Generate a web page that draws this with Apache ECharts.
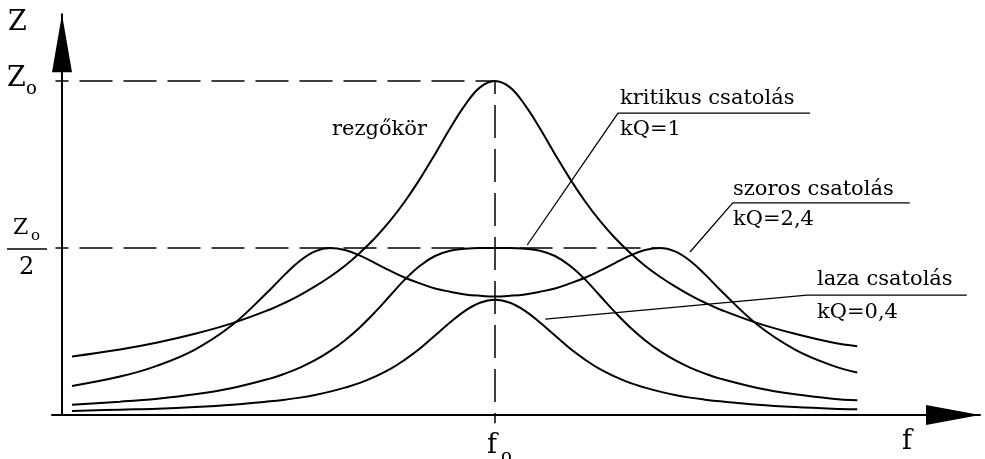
<!DOCTYPE html>
<html>
<head>
<meta charset="utf-8">
<script src="https://cdn.jsdelivr.net/npm/echarts@6/dist/echarts.min.js"></script>
<style>
  html, body { margin: 0; padding: 0; background: #fff; }
  #chart { width: 985px; height: 459px; }
</style>
</head>
<body>
<div id="chart"></div>
<script>
// Generalised detuning (f0 = 0) at which the curves are sampled
const detuning = [-5.64, -5, -4.5, -4, -3.5, -3, -2.8, -2.6, -2.4, -2.2, -2, -1.8, -1.6, -1.4, -1.2, -1, -0.8, -0.6, -0.4, -0.2,
                  0, 0.2, 0.4, 0.6, 0.8, 1, 1.2, 1.4, 1.6, 1.8, 2, 2.2, 2.4, 2.6, 2.8, 3, 3.5, 4, 4.5, 4.83];

// Impedance relative to Zo
const rezgokor = [0.175, 0.196, 0.217, 0.243, 0.275, 0.316, 0.336, 0.359, 0.385, 0.414, 0.447, 0.486, 0.530, 0.581, 0.640, 0.707, 0.781, 0.858, 0.928, 0.981,
                  1.000, 0.981, 0.928, 0.858, 0.781, 0.707, 0.640, 0.581, 0.530, 0.486, 0.447, 0.414, 0.385, 0.359, 0.336, 0.316, 0.275, 0.243, 0.217, 0.206];
const szoros   = [0.087, 0.115, 0.148, 0.196, 0.270, 0.375, 0.421, 0.462, 0.490, 0.500, 0.494, 0.477, 0.455, 0.432, 0.411, 0.394, 0.379, 0.369, 0.361, 0.357,
                  0.355, 0.357, 0.361, 0.369, 0.379, 0.394, 0.411, 0.432, 0.455, 0.477, 0.494, 0.500, 0.490, 0.462, 0.421, 0.375, 0.270, 0.196, 0.148, 0.127];
const kritikus = [0.031, 0.040, 0.049, 0.062, 0.081, 0.109, 0.124, 0.142, 0.164, 0.191, 0.224, 0.263, 0.308, 0.357, 0.406, 0.447, 0.476, 0.492, 0.498, 0.500,
                  0.500, 0.500, 0.498, 0.492, 0.476, 0.447, 0.406, 0.357, 0.308, 0.263, 0.224, 0.191, 0.164, 0.142, 0.124, 0.109, 0.081, 0.062, 0.049, 0.044];
const laza     = [0.012, 0.016, 0.019, 0.024, 0.031, 0.041, 0.046, 0.052, 0.060, 0.070, 0.082, 0.096, 0.115, 0.137, 0.166, 0.199, 0.238, 0.277, 0.312, 0.336,
                  0.345, 0.336, 0.312, 0.277, 0.238, 0.199, 0.166, 0.137, 0.115, 0.096, 0.082, 0.070, 0.060, 0.052, 0.046, 0.041, 0.031, 0.024, 0.019, 0.017];

// Reference levels
const levelZo = 1;
const levelHalf = 0.5;
const yAxisAt = -5.86;        // where the dashed guides start (just left of the Z axis)
const halfLineEnd = 2.2;      // the Zo/2 guide runs out to the right hump of the tight coupling
const f0 = 0;

// Leader lines from each curve to its caption: [detuning, Z/Zo]
const leaderKritikus = [[0.43, 0.509], [1.64, 0.904], [4.2, 0.904]];
const leaderSzoros   = [[2.6, 0.488], [3.17, 0.635], [5.53, 0.635]];
const leaderLaza     = [[0.67, 0.287], [4.16, 0.359], [6.29, 0.359]];

const pair = (xs, ys) => xs.map((x, i) => [x, ys[i]]);

const serif = '"DejaVu Serif", "Liberation Serif", serif';
function label(x, y, text, size) {
  return {
    type: 'text', x: x, y: y, silent: true, z: 10,
    style: { text: text, font: size + 'px ' + serif, fill: '#000', align: 'left', verticalAlign: 'middle',
             textAlign: 'left', textVerticalAlign: 'middle' }
  };
}

const curveStyle = { color: '#000', width: 2 };
function curve(name, ys) {
  return { name: name, type: 'line', data: pair(detuning, ys), smooth: 0.4, symbol: 'none',
           lineStyle: curveStyle, itemStyle: { color: '#000' }, z: 3, silent: true };
}
function guide(points, dashed) {
  return { type: 'line', data: points, symbol: 'none', clip: false, silent: true, z: 2,
           lineStyle: dashed ? { color: '#000', width: 1.5, type: [33, 11], dashOffset: 20 }
                             : { color: '#000', width: 1.3 } };
}

const chart = echarts.init(document.getElementById('chart'), null, { renderer: 'canvas' });
chart.setOption({
  backgroundColor: '#fff',
  animation: false,
  grid: { left: 52, right: 5, top: 14.2, bottom: 44, containLabel: false, outerBoundsMode: 'none' },
  xAxis: {
    type: 'value', min: -5.9067, max: 6.4667,
    axisLine: { show: true, onZero: true, symbol: ['none', 'triangle'], symbolSize: [20, 54], symbolOffset: [0, -27],
                lineStyle: { color: '#000', width: 2 } },
    axisTick: { show: false }, axisLabel: { show: false }, splitLine: { show: false }
  },
  yAxis: {
    type: 'value', min: 0, max: 1.2, offset: -10,
    axisLine: { show: true, onZero: false, symbol: ['none', 'triangle'], symbolSize: [20, 58], symbolOffset: [0, -29],
                lineStyle: { color: '#000', width: 2 } },
    axisTick: { show: false }, axisLabel: { show: false }, splitLine: { show: false }
  },
  series: [
    guide([[yAxisAt, levelZo], [f0, levelZo]], true),
    guide([[yAxisAt, levelHalf], [halfLineEnd, levelHalf]], true),
    guide([[f0, levelZo], [f0, -0.025]], true),
    curve('rezgőkör', rezgokor),
    curve('szoros csatolás', szoros),
    curve('kritikus csatolás', kritikus),
    curve('laza csatolás', laza),
    guide(leaderKritikus, false),
    guide(leaderSzoros, false),
    guide(leaderLaza, false)
  ],
  graphic: [
    label(8, 22.5, 'Z', 27),
    label(7, 78.5, 'Z', 27),
    label(26, 89.7, 'o', 18),
    label(13, 228.3, 'Z', 22),
    label(31, 235.7, 'o', 15),
    { type: 'line', silent: true, shape: { x1: 7, y1: 249, x2: 47, y2: 249 }, style: { stroke: '#000', lineWidth: 1.5 } },
    label(19, 267.6, '2', 24),
    label(902, 441.5, 'f', 27),
    label(487, 445.5, 'f', 27),
    label(501, 457.7, 'o', 18),
    label(332, 129.6, 'rezgőkör', 21),
    label(620, 98.6, 'kritikus csatolás', 21),
    label(620, 129.6, 'kQ=1', 21),
    label(733, 189.6, 'szoros csatolás', 21),
    label(733, 219.6, 'kQ=2,4', 21),
    label(817, 279.6, 'laza csatolás', 21),
    label(817, 312.6, 'kQ=0,4', 21)
  ]
});
</script>
</body>
</html>
